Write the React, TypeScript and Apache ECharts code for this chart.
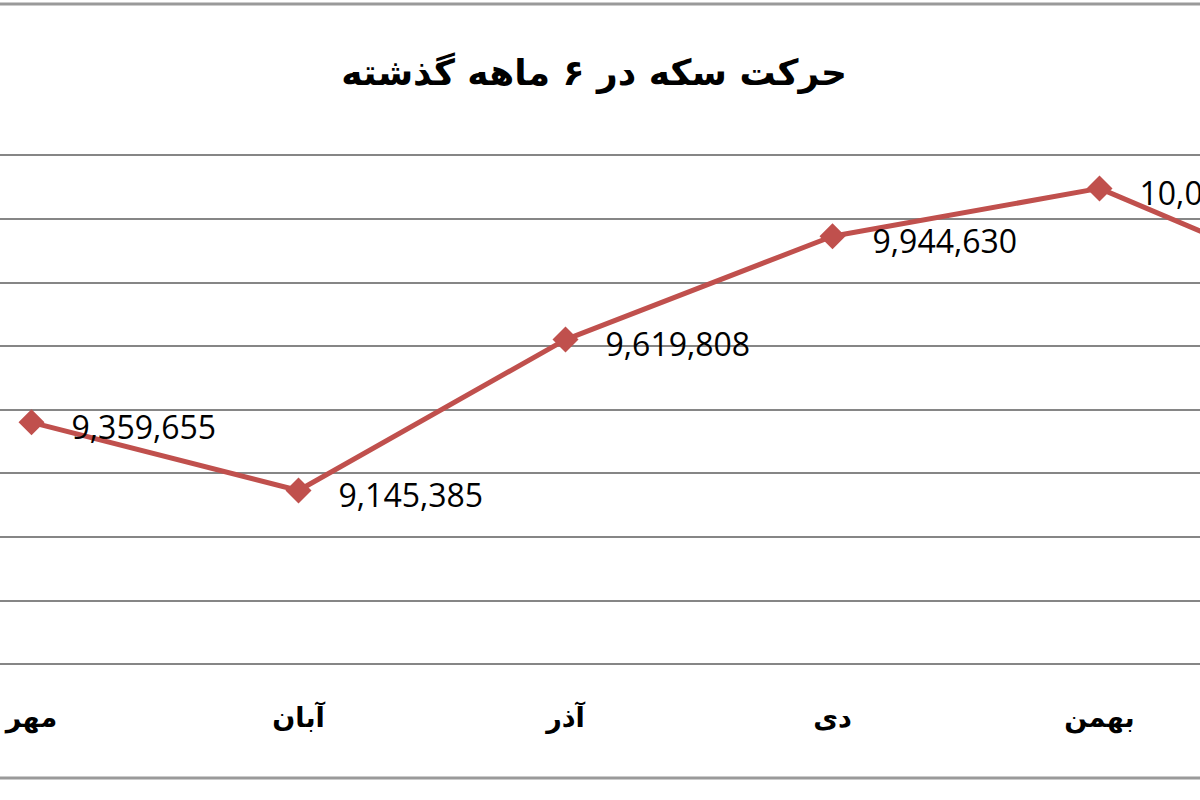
import React, { useEffect, useRef } from "react";
import * as echarts from "echarts";

const titleText = "حرکت سکه در ۶ ماهه گذشته";
const months = ["مهر", "آبان", "آذر", "دی", "بهمن", "اسفند"];
const coinPrices = [9359655, 9145385, 9619808, 9944630, 10095000, 9740000];
const yMin = 8600000;
const yMax = 10200000;
const yStep = 200000;

const SHIFT = 102; // the reference is a crop of a wider chart
const INNER_W = 1602;

export default function App() {
  const ref = useRef<HTMLDivElement>(null);
  useEffect(() => {
    document.body.style.margin = "0";
    if (!ref.current) return;
    const chart = echarts.init(ref.current, null, { renderer: "svg" });
    chart.setOption({
      animation: false,
      backgroundColor: "#ffffff",
      graphic: [
        {
          type: "text",
          x: SHIFT + 594,
          y: 72,
          style: {
            text: titleText,
            fontFamily: "DejaVu Sans",
            fontWeight: "bold",
            fontSize: 36,
            fill: "#000000",
            align: "center",
            verticalAlign: "middle",
          },
        },
        {
          type: "line",
          shape: { x1: 0, y1: 4, x2: INNER_W, y2: 4 },
          style: { stroke: "#9a9a9a", lineWidth: 3 },
        },
        {
          type: "line",
          shape: { x1: 0, y1: 778, x2: INNER_W, y2: 778 },
          style: { stroke: "#9a9a9a", lineWidth: 3 },
        },
      ],
      grid: { left: 0, right: 0, top: 155, bottom: 136 },
      xAxis: {
        type: "category",
        data: months,
        boundaryGap: true,
        axisLine: { lineStyle: { color: "#868686", width: 2 } },
        axisTick: { show: false },
        axisLabel: {
          margin: 40,
          fontFamily: "DejaVu Sans",
          fontWeight: "bold",
          fontSize: 27,
          color: "#000000",
        },
      },
      yAxis: {
        type: "value",
        min: yMin,
        max: yMax,
        interval: yStep,
        axisLabel: { show: false },
        axisLine: { show: false },
        axisTick: { show: false },
        splitLine: { lineStyle: { color: "#868686", width: 2 } },
      },
      series: [
        {
          type: "line",
          data: coinPrices,
          symbol: "diamond",
          symbolSize: 26,
          lineStyle: { color: "#C0504D", width: 5 },
          itemStyle: { color: "#C0504D" },
          label: {
            show: true,
            position: "right",
            distance: 27,
            offset: [0, 4],
            fontFamily: "Open Sans",
            fontSize: 32,
            color: "#000000",
            formatter: (p: any) => Number(p.value).toLocaleString("en-US"),
          },
        },
      ],
    });
    return () => chart.dispose();
  }, []);
  return (
    <div style={{ width: 1200, height: 800, position: "relative", overflow: "hidden", background: "#fff" }}>
      <div ref={ref} style={{ position: "absolute", left: -SHIFT, top: 0, width: INNER_W, height: 800 }} />
    </div>
  );
}
